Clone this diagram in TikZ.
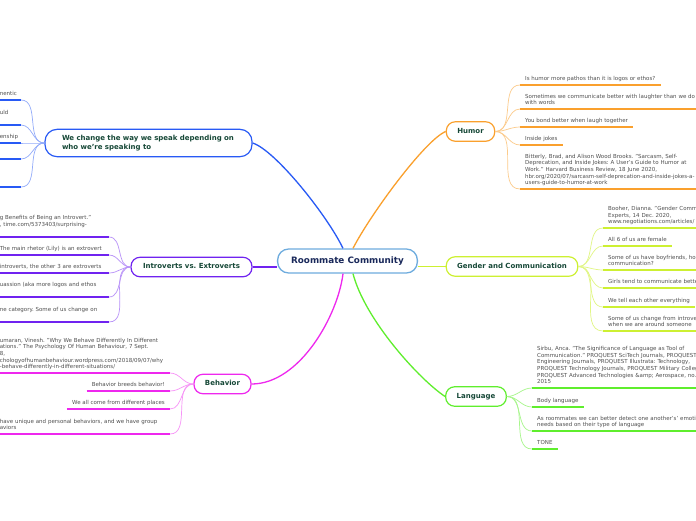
\documentclass[tikz,border=0pt]{standalone}
\usepackage{fontspec}
\setmainfont{DejaVu Sans}
\usepackage{xcolor}
\usepackage{tikz}
\usetikzlibrary{positioning}

\definecolor{cblue}{RGB}{40,90,245}
\definecolor{cpurple}{RGB}{112,35,240}
\definecolor{cmag}{RGB}{238,40,238}
\definecolor{corange}{RGB}{250,160,45}
\definecolor{clime}{RGB}{205,240,50}
\definecolor{cgreen}{RGB}{95,238,45}
\definecolor{rootline}{RGB}{110,172,222}
\definecolor{topictext}{RGB}{22,72,55}
\definecolor{roottext}{RGB}{25,40,90}
\definecolor{leaftext}{RGB}{80,80,80}

\hyphenpenalty=10000
\exhyphenpenalty=10000
\frenchspacing

\begin{document}
\begin{tikzpicture}[x=1pt, y=-1pt,
  root/.style={rectangle, rounded corners=11pt, draw=rootline, line width=1.3pt,
    fill=white, minimum height=24pt, inner xsep=13.5pt,
    font=\fontsize{8.8}{10}\selectfont\bfseries, text=roottext},
  topic/.style={rectangle, rounded corners=9pt, line width=1.2pt, fill=white,
    minimum height=19.5pt, inner xsep=11pt, text height=5.2pt, text depth=1.4pt,
    font=\fontsize{7}{8.5}\selectfont\bfseries, text=topictext},
  leaf/.style={font=\fontsize{5.5}{6.6}\selectfont, text=leaftext, align=left,
    inner xsep=5pt, inner ysep=2.2pt, execute at end node=\strut},
  br/.style={line width=1.3pt},
  cn/.style={line width=0.7pt},
  ul/.style={line width=2pt}
]
  \fill[white, use as bounding box] (0,0) rectangle (696,520);
  \clip (0,0) rectangle (696,520);

  \node[root] (root) at (347.5,261) {Roommate Community};

  \node[topic, draw=cblue, text width=173pt, align=left, inner xsep=17pt,
    inner ysep=6pt, rounded corners=12pt, text height=, text depth=]
    (change) at (148.5,143) {We change the way we speak depending on\\who we're speaking to};
  \node[topic, draw=cpurple, inner xsep=12pt] (intro)  at (191.5,267) {Introverts vs. Extroverts};
  \node[topic, draw=cmag]    (behav)  at (222.5,384) {Behavior};
  \node[topic, draw=corange] (humor)  at (470.5,131.5) {Humor};
  \node[topic, draw=clime]   (gender) at (512,266.5) {Gender and Communication};
  \node[topic, draw=cgreen]  (lang)   at (476,396.5) {Language};

  \draw[br, cblue]   ([xshift=-4.5pt]root.north) .. controls (327,215) and (275,150) .. (change.east);
  \draw[br, corange] ([xshift=5.5pt]root.north) .. controls (370,215) and (425,140) .. (humor.west);
  \draw[br, cmag]    ([xshift=-4.5pt]root.south) .. controls (338,315) and (300,384) .. (behav.east);
  \draw[br, cgreen]  ([xshift=5.5pt]root.south) .. controls (365,320) and (420,380) .. (lang.west);
  \draw[br, cpurple] (intro.east) -- (intro.east -| root.west);
  \draw[br, clime]   (gender.west -| root.east) -- (gender.west);

  \node[leaf, anchor=south west] (h1) at (520,85) {Is humor more pathos than it is logos or ethos?};
  \node[leaf, anchor=south west, text width=300pt] (h2) at (520,109)
    {Sometimes we communicate better with laughter than we do\\with words};
  \node[leaf, anchor=south west] (h3) at (520,127) {You bond better when laugh together};
  \node[leaf, anchor=south west] (h4) at (520,145) {Inside jokes};
  \node[leaf, anchor=south west, text width=300pt] (h5) at (520,189)
    {Bitterly, Brad, and Alison Wood Brooks. "Sarcasm, Self-\\Deprecation, and Inside Jokes: A User's Guide to Humor at\\Work." Harvard Business Review, 18 June 2020,\\hbr.org/2020/07/sarcasm-self-deprecation-and-inside-jokes-a-\\users-guide-to-humor-at-work};

  \node[leaf, anchor=south west, text width=300pt] (g1) at (603,228)
    {Booher, Dianna. "Gender Communication\\Experts, 14 Dec. 2020,\\www.negotiations.com/articles/};
  \node[leaf, anchor=south west] (g2) at (603,246) {All 6 of us are female};
  \node[leaf, anchor=south west, text width=300pt] (g3) at (603,270)
    {Some of us have boyfriends, how\\communication?};
  \node[leaf, anchor=south west, text width=300pt] (g4) at (603,288) {Girls tend to communicate better};
  \node[leaf, anchor=south west] (g5) at (603,307) {We tell each other everything};
  \node[leaf, anchor=south west, text width=300pt] (g6) at (603,331)
    {Some of us change from introvert\\when we are around someone};

  \node[leaf, anchor=south west, text width=300pt] (l1) at (532,388)
    {Sirbu, Anca. "The Significance of Language as Tool of\\Communication." PROQUEST SciTech Journals, PROQUEST\\Engineering Journals, PROQUEST Illustrata: Technology,\\PROQUEST Technology Journals, PROQUEST Military College\\PROQUEST Advanced Technologies \&amp; Aerospace, no.\\2015};
  \node[leaf, anchor=south west] (l2) at (532,407) {Body language};
  \node[leaf, anchor=south west, text width=300pt] (l3) at (532,431)
    {As roommates we can better detect one another's' emotional\\needs based on their type of language};
  \node[leaf, anchor=south west] (l4) at (532,449) {TONE};

  \node[leaf, anchor=south east, text width=16pt] (w1) at (21,100) {nentic};
  \node[leaf, anchor=south east, text width=16pt] (w2) at (21,125) {uld\\\mbox{}};
  \node[leaf, anchor=south east, text width=16pt] (w3) at (21,143) {enship};
  \node[leaf, anchor=south east, text width=16pt] (w4) at (21,159) {};
  \node[leaf, anchor=south east, text width=16pt] (w5) at (21,187) {};

  \node[leaf, anchor=south east, text width=104pt] (i1) at (109,237)
    {g Benefits of Being an Introvert."\\, time.com/5373403/surprising-\\\mbox{}};
  \node[leaf, anchor=south east, text width=104pt] (i2) at (109,255) {The main rhetor (Lily) is an extrovert};
  \node[leaf, anchor=south east, text width=104pt] (i3) at (109,273) {introverts, the other 3 are extroverts};
  \node[leaf, anchor=south east, text width=104pt] (i4) at (109,297) {uassion (aka more logos and ethos\\\mbox{}};
  \node[leaf, anchor=south east, text width=104pt] (i5) at (109,322) {ne category. Some of us change on\\\mbox{}};

  \node[leaf, anchor=south east, text width=165pt] (b1) at (170,373)
    {umaran, Vinesh. "Why We Behave Differently In Different\\ations." The Psychology Of Human Behaviour, 7 Sept.\\8,\\chologyofhumanbehaviour.wordpress.com/2018/09/07/why\\-behave-differently-in-different-situations/};
  \node[leaf, anchor=south east] (b2) at (170,391) {Behavior breeds behavior!};
  \node[leaf, anchor=south east] (b3) at (170,409) {We all come from different places};
  \node[leaf, anchor=south east, text width=165pt] (b4) at (170,434)
    {have unique and personal behaviors, and we have group\\aviors};

  \draw[cn, corange!55] (humor.east) to[out=0,in=180] (h1.south west);
  \draw[cn, corange!55] (humor.east) to[out=0,in=180] (h2.south west);
  \draw[cn, corange!55] (humor.east) to[out=0,in=180] (h3.south west);
  \draw[cn, corange!55] (humor.east) to[out=0,in=180] (h4.south west);
  \draw[cn, corange!55] (humor.east) to[out=0,in=180] (h5.south west);
  \draw[ul, corange] (h1.south west) -- (h1.south east);
  \draw[ul, corange] (h2.south west) -- (h2.south east);
  \draw[ul, corange] (h3.south west) -- (h3.south east);
  \draw[ul, corange] (h4.south west) -- (h4.south east);
  \draw[ul, corange] (h5.south west) -- (h5.south east);

  \draw[cn, clime!60] (gender.east) to[out=0,in=180] (g1.south west);
  \draw[cn, clime!60] (gender.east) to[out=0,in=180] (g2.south west);
  \draw[cn, clime!60] (gender.east) to[out=0,in=180] (g3.south west);
  \draw[cn, clime!60] (gender.east) to[out=0,in=180] (g4.south west);
  \draw[cn, clime!60] (gender.east) to[out=0,in=180] (g5.south west);
  \draw[cn, clime!60] (gender.east) to[out=0,in=180] (g6.south west);
  \draw[ul, clime] (g1.south west) -- (g1.south east);
  \draw[ul, clime] (g2.south west) -- (g2.south east);
  \draw[ul, clime] (g3.south west) -- (g3.south east);
  \draw[ul, clime] (g4.south west) -- (g4.south east);
  \draw[ul, clime] (g5.south west) -- (g5.south east);
  \draw[ul, clime] (g6.south west) -- (g6.south east);

  \draw[cn, cgreen!55] (lang.east) to[out=0,in=180] (l1.south west);
  \draw[cn, cgreen!55] (lang.east) to[out=0,in=180] (l2.south west);
  \draw[cn, cgreen!55] (lang.east) to[out=0,in=180] (l3.south west);
  \draw[cn, cgreen!55] (lang.east) to[out=0,in=180] (l4.south west);
  \draw[ul, cgreen] (l1.south west) -- (l1.south east);
  \draw[ul, cgreen] (l2.south west) -- (l2.south east);
  \draw[ul, cgreen] (l3.south west) -- (l3.south east);
  \draw[ul, cgreen] (l4.south west) -- (l4.south east);

  \draw[cn, cblue!50] (change.west) to[out=180,in=0] (w1.south east);
  \draw[cn, cblue!50] (change.west) to[out=180,in=0] (w2.south east);
  \draw[cn, cblue!50] (change.west) to[out=180,in=0] (w3.south east);
  \draw[cn, cblue!50] (change.west) to[out=180,in=0] (w4.south east);
  \draw[cn, cblue!50] (change.west) to[out=180,in=0] (w5.south east);
  \draw[ul, cblue] (w1.south west) -- (w1.south east);
  \draw[ul, cblue] (w2.south west) -- (w2.south east);
  \draw[ul, cblue] (w3.south west) -- (w3.south east);
  \draw[ul, cblue] (w4.south west) -- (w4.south east);
  \draw[ul, cblue] (w5.south west) -- (w5.south east);

  \draw[cn, cpurple!50] (intro.west) to[out=180,in=0] (i1.south east);
  \draw[cn, cpurple!50] (intro.west) to[out=180,in=0] (i2.south east);
  \draw[cn, cpurple!50] (intro.west) to[out=180,in=0] (i3.south east);
  \draw[cn, cpurple!50] (intro.west) to[out=180,in=0] (i4.south east);
  \draw[cn, cpurple!50] (intro.west) to[out=180,in=0] (i5.south east);
  \draw[ul, cpurple] (i1.south west) -- (i1.south east);
  \draw[ul, cpurple] (i2.south west) -- (i2.south east);
  \draw[ul, cpurple] (i3.south west) -- (i3.south east);
  \draw[ul, cpurple] (i4.south west) -- (i4.south east);
  \draw[ul, cpurple] (i5.south west) -- (i5.south east);

  \draw[cn, cmag!50] (behav.west) to[out=180,in=0] (b1.south east);
  \draw[cn, cmag!50] (behav.west) to[out=180,in=0] (b2.south east);
  \draw[cn, cmag!50] (behav.west) to[out=180,in=0] (b3.south east);
  \draw[cn, cmag!50] (behav.west) to[out=180,in=0] (b4.south east);
  \draw[ul, cmag] (b1.south west) -- (b1.south east);
  \draw[ul, cmag] (b2.south west) -- (b2.south east);
  \draw[ul, cmag] (b3.south west) -- (b3.south east);
  \draw[ul, cmag] (b4.south west) -- (b4.south east);
\end{tikzpicture}
\end{document}
